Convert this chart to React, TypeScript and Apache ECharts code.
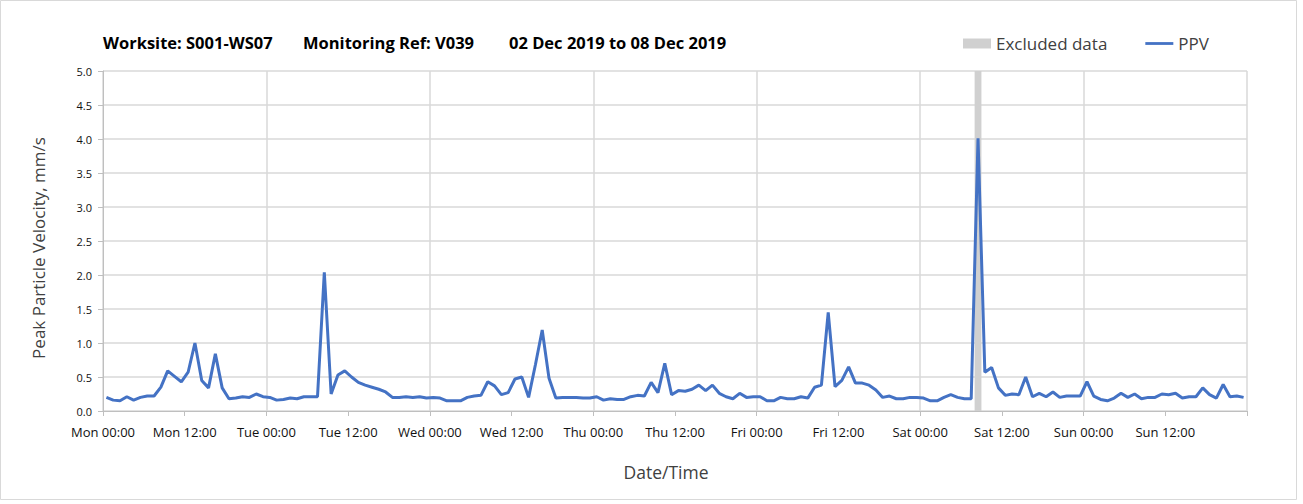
import React, { useEffect, useRef } from "react";
import * as echarts from "echarts";

// Hourly PPV readings (mm/s), Mon 00:30 ... Sun 23:30
const ppvMon = [0.20, 0.16, 0.15, 0.21, 0.16, 0.20, 0.22, 0.22, 0.35, 0.59, 0.51, 0.43, 0.57, 1.00, 0.45, 0.34, 0.84, 0.34, 0.18, 0.19, 0.21, 0.20, 0.25, 0.21];
const ppvTue = [0.20, 0.16, 0.17, 0.19, 0.18, 0.21, 0.21, 0.21, 2.04, 0.25, 0.53, 0.59, 0.50, 0.42, 0.38, 0.35, 0.32, 0.28, 0.20, 0.20, 0.21, 0.20, 0.21, 0.19];
const ppvWed = [0.20, 0.19, 0.15, 0.15, 0.15, 0.20, 0.22, 0.23, 0.43, 0.37, 0.24, 0.27, 0.47, 0.50, 0.20, 0.68, 1.19, 0.48, 0.19, 0.20, 0.20, 0.20, 0.19, 0.19];
const ppvThu = [0.21, 0.16, 0.18, 0.17, 0.17, 0.21, 0.23, 0.22, 0.42, 0.27, 0.70, 0.24, 0.30, 0.29, 0.32, 0.38, 0.30, 0.38, 0.26, 0.21, 0.18, 0.26, 0.20, 0.21];
const ppvFri = [0.21, 0.15, 0.15, 0.20, 0.18, 0.18, 0.21, 0.19, 0.35, 0.38, 1.45, 0.36, 0.45, 0.65, 0.41, 0.41, 0.38, 0.31, 0.20, 0.22, 0.18, 0.18, 0.20, 0.20];
const ppvSat = [0.19, 0.15, 0.15, 0.20, 0.24, 0.20, 0.18, 0.18, 4.01, 0.57, 0.64, 0.34, 0.23, 0.25, 0.24, 0.50, 0.21, 0.26, 0.21, 0.28, 0.20, 0.22, 0.22, 0.22];
const ppvSun = [0.43, 0.22, 0.17, 0.15, 0.19, 0.26, 0.20, 0.25, 0.18, 0.20, 0.20, 0.25, 0.24, 0.26, 0.19, 0.21, 0.21, 0.34, 0.24, 0.19, 0.39, 0.21, 0.22, 0.20];

const tickLabels = [
  "Mon 00:00", "Mon 12:00", "Tue 00:00", "Tue 12:00", "Wed 00:00", "Wed 12:00",
  "Thu 00:00", "Thu 12:00", "Fri 00:00", "Fri 12:00", "Sat 00:00", "Sat 12:00",
  "Sun 00:00", "Sun 12:00",
];
// Excluded data window, hours from Mon 00:00
const excludedStart = 128;
const excludedEnd = 129;

const titleParts = ["Worksite: S001-WS07", "Monitoring Ref: V039", "02 Dec 2019 to 08 Dec 2019"];

const FONT = "'Open Sans', 'Noto Sans', sans-serif";

export default function App() {
  const ref = useRef<HTMLDivElement>(null);
  useEffect(() => {
    if (!ref.current) return;
    const chart = echarts.init(ref.current, undefined, { renderer: "svg" });
    const all = [...ppvMon, ...ppvTue, ...ppvWed, ...ppvThu, ...ppvFri, ...ppvSat, ...ppvSun];
    const ppv = all.map((v, i) => [i + 0.5, v]);
    chart.setOption({
      animation: false,
      backgroundColor: "#ffffff",
      textStyle: { fontFamily: FONT },
      grid: { left: 103, right: 56, top: 71, bottom: 93, containLabel: false },
      legend: {
        left: 963,
        top: 35,
        padding: 0,
        itemWidth: 28,
        itemHeight: 10,
        itemGap: 38,
        textStyle: { fontSize: 17, color: "#404040", fontFamily: FONT },
        data: [
          { name: "Excluded data", icon: "rect", itemStyle: { color: "#d0d0d0" } },
          { name: "PPV", icon: "path://M0,0 L30,0 L30,3 L0,3 Z", itemStyle: { color: "#4472c4" } },
        ],
      },
      graphic: [
        { type: "rect", shape: { x: 0.5, y: 0.5, width: 1296, height: 499 }, style: { fill: "none", stroke: "#d9d9d9", lineWidth: 1 }, silent: true },
        { type: "text", x: 103, y: 42, style: { text: titleParts[0], font: `bold 16.5px ${FONT}`, fill: "#000", textVerticalAlign: "middle" } },
        { type: "text", x: 303, y: 42, style: { text: titleParts[1], font: `bold 16.5px ${FONT}`, fill: "#000", textVerticalAlign: "middle" } },
        { type: "text", x: 509, y: 42, style: { text: titleParts[2], font: `bold 16.5px ${FONT}`, fill: "#000", textVerticalAlign: "middle" } },
        { type: "text", x: 38, y: 248, rotation: Math.PI / 2, style: { text: "Peak Particle Velocity, mm/s", font: `17px ${FONT}`, fill: "#404040", textAlign: "center", textVerticalAlign: "middle" } },
        { type: "text", x: 666, y: 472, style: { text: "Date/Time", font: `17.5px ${FONT}`, fill: "#404040", textAlign: "center", textVerticalAlign: "middle" } },
      ],
      xAxis: [
        {
          type: "value",
          min: 0,
          max: 168,
          interval: 12,
          axisLine: { show: true, lineStyle: { color: "#bfbfbf", width: 1 } },
          axisTick: { show: true, length: 5, lineStyle: { color: "#bfbfbf" } },
          axisLabel: {
            color: "#111",
            fontSize: 13,
            margin: 14,
            formatter: (v: number) => tickLabels[Math.round(v / 12)] ?? "",
          },
          splitLine: { show: false },
        },
        {
          type: "value",
          min: 0,
          max: 168,
          interval: 24,
          position: "bottom",
          axisLine: { show: false },
          axisTick: { show: false },
          axisLabel: { show: false },
          splitLine: { show: true, lineStyle: { color: "#d9d9d9", width: 1.5 } },
        },
      ],
      yAxis: {
        type: "value",
        min: 0,
        max: 5,
        interval: 0.5,
        axisLine: { show: true, lineStyle: { color: "#bfbfbf", width: 1 } },
        axisTick: { show: true, length: 5, lineStyle: { color: "#bfbfbf" } },
        axisLabel: { color: "#111", fontSize: 11, margin: 11, formatter: (v: number) => v.toFixed(1) },
        splitLine: { show: true, lineStyle: { color: "#d9d9d9", width: 1.5 } },
      },
      series: [
        {
          name: "Excluded data",
          type: "bar",
          data: [],
          color: "#d0d0d0",
          z: 1,
          markArea: {
            silent: true,
            itemStyle: { color: "#d0d0d0" },
            data: [[{ xAxis: excludedStart, yAxis: 0 }, { xAxis: excludedEnd, yAxis: 5 }]],
          },
        },
        {
          name: "PPV",
          type: "line",
          data: ppv,
          symbol: "none",
          color: "#4472c4",
          lineStyle: { color: "#4472c4", width: 3 },
          z: 3,
        },
      ],
    });
    return () => chart.dispose();
  }, []);
  return <div ref={ref} style={{ position: "fixed", left: 0, top: 0, width: 1303, height: 504 }} />;
}
